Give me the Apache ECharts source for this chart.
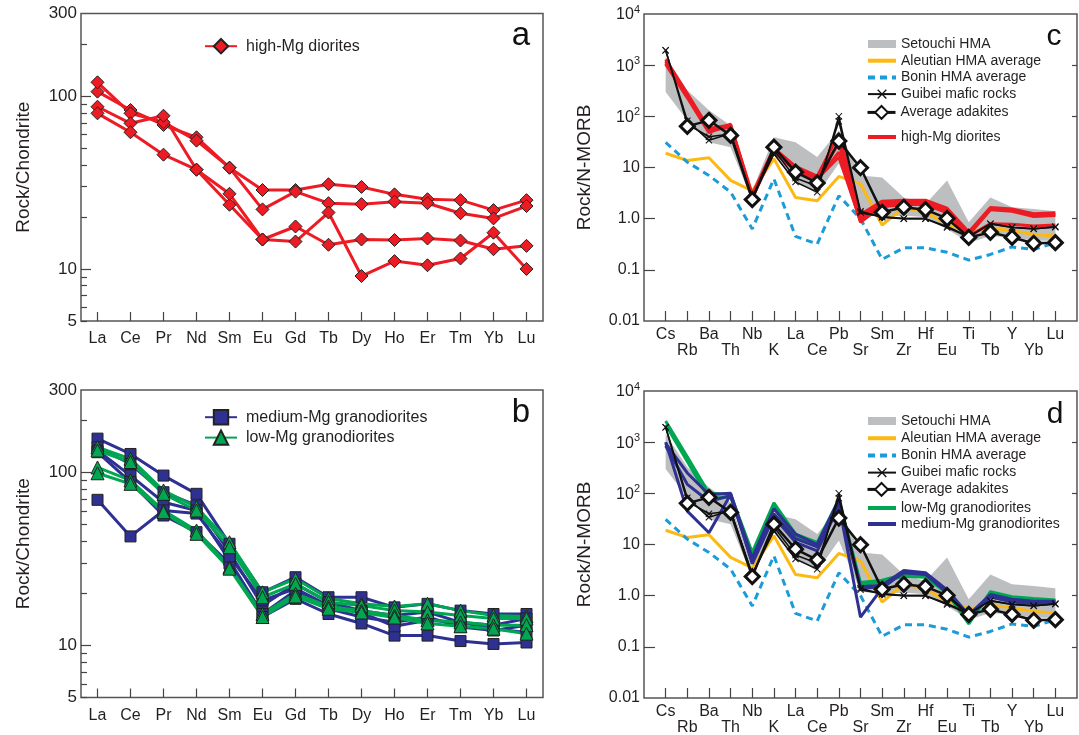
<!DOCTYPE html>
<html>
<head>
<meta charset="utf-8">
<title>Chondrite and N-MORB normalised patterns</title>
<script src="https://cdn.jsdelivr.net/npm/echarts@6.0.0/dist/echarts.min.js"></script>
<style>
  html, body { margin: 0; padding: 0; background: #fff; }
  #chart { width: 1079px; height: 735px; }
</style>
</head>
<body>
<div id="chart"></div>
<script>
// ---- data ----
const reeElements = ['La', 'Ce', 'Pr', 'Nd', 'Sm', 'Eu', 'Gd', 'Tb', 'Dy', 'Ho', 'Er', 'Tm', 'Yb', 'Lu'];
const spiderElements = ['Cs', 'Rb', 'Ba', 'Th', 'Nb', 'K', 'La', 'Ce', 'Pb', 'Sr', 'Sm', 'Zr', 'Hf', 'Eu', 'Ti', 'Tb', 'Y', 'Yb', 'Lu'];

// a: high-Mg diorites / chondrite
const highMg1 = [106, 83, 68, 57.7, 38.5, 28.6, 28.6, 30.9, 29.8, 27.0, 25.3, 25.0, 21.9, 25.0];
const highMg2 = [120, 79.4, 70.5, 55.2, 38.5, 22.1, 28.0, 24.0, 23.7, 24.5, 24.0, 21.0, 19.6, 23.1];
const highMg3 = [86.7, 69.5, 76.9, 37.5, 23.5, 14.8, 17.6, 13.8, 14.8, 14.7, 15.0, 14.6, 13.0, 13.6];
const highMg4 = [79.4, 61.7, 45.8, 37.5, 27.2, 14.8, 14.4, 21.2, 9.1, 11.1, 10.5, 11.5, 16.2, 10.0];

// b: granodiorites / chondrite
const medMg1 = [157, 128, 96, 75.3, 38.7, 20.3, 24.8, 19.0, 19.0, 16.6, 17.4, 15.9, 15.2, 15.2];
const medMg2 = [140, 112, 76.9, 64.5, 34.6, 17.0, 22.7, 17.8, 15.9, 14.9, 15.6, 13.6, 13.1, 14.3];
const medMg3 = [134, 96, 67.3, 60.3, 31.0, 15.2, 20.8, 16.3, 14.6, 13.6, 14.6, 12.8, 12.2, 13.1];
const medMg4 = [131, 88, 56.4, 45.2, 29.7, 14.6, 18.6, 15.2, 13.4, 11.4, 11.4, 10.6, 10.2, 10.4];
const medMg5 = [69.5, 42.7, 60.3, 57.9, 32.7, 18.2, 21.3, 17.0, 15.5, 12.9, 14.0, 13.6, 12.5, 11.9];
const lowMg1 = [140, 120, 78.7, 63.0, 39.5, 20.3, 24.3, 18.7, 17.4, 16.8, 17.4, 15.9, 14.9, 14.7];
const lowMg2 = [134, 115, 75.3, 60.3, 37.0, 19.0, 22.7, 17.8, 17.0, 15.9, 15.6, 14.9, 14.3, 14.3];
const lowMg3 = [107, 90, 60.3, 46.2, 28.4, 15.2, 19.9, 16.8, 15.9, 14.9, 14.0, 13.6, 13.1, 13.1];
const lowMg4 = [99, 86, 59.0, 44.2, 27.8, 14.6, 19.2, 16.3, 15.5, 14.5, 13.4, 12.9, 12.5, 11.7];

// c, d: N-MORB normalised references
const setouchiLow = [300, 83, 31, 25, 2.25, 18.5, 5.6, 3.0, 12, 1.2, 1.06, 1.15, 1.06, 0.63, 0.34, 0.46, 0.43, 0.37, 0.37];
const setouchiHigh = [1450, 322, 131, 66, 3.5, 39, 31, 16, 53, 7.0, 6.4, 2.6, 1.94, 5.6, 0.85, 2.6, 1.67, 1.55, 1.39];
const aleutian = [19, 13.7, 15.5, 5.6, 3.5, 14.8, 2.6, 2.25, 6.7, 4.8, 0.75, 1.67, 1.33, 0.79, 0.55, 0.65, 0.58, 0.49, 0.46];
const bonin = [31, 12.7, 7.0, 3.3, 0.63, 6.0, 0.45, 0.32, 2.8, 1.0, 0.16, 0.27, 0.27, 0.22, 0.155, 0.2, 0.28, 0.25, 0.34];
const guibei1 = [1950, 82, 34, 46, 2.6, 18.5, 5.2, 3.3, 100, 1.4, 1.06, 1.0, 1.0, 0.67, 0.44, 0.79, 0.67, 0.63, 0.7];
const guibei2 = [1950, 70, 40, 45, 2.5, 22, 6.2, 4.3, 80, 1.3, 1.1, 1.0, 1.0, 0.7, 0.45, 0.8, 0.68, 0.64, 0.68];
const adakite = [null, 63.7, 83.5, 42.4, 2.36, 25, 8.1, 5.0, 32.8, 9.9, 1.33, 1.67, 1.5, 1.01, 0.43, 0.54, 0.43, 0.33, 0.34];

// c: high-Mg diorites / N-MORB
const dioriteN1 = [1300, 280, 58, 68, 3.0, 24, 10.5, 6.8, 45, 1.2, 2.2, 2.3, 2.3, 1.6, 0.55, 1.65, 1.55, 1.25, 1.3];
const dioriteN2 = [1200, 250, 52, 62, 2.8, 22, 9.5, 6.2, 30, 1.0, 2.0, 2.2, 2.2, 1.45, 0.5, 1.55, 1.45, 1.15, 1.2];
const dioriteN3 = [1050, 230, 48, 70, 2.6, 20, 8.8, 5.8, 20, 0.85, 1.8, 2.0, 2.0, 1.35, 0.48, 1.5, 1.4, 1.1, 1.15];
const dioriteN4 = [1100, 260, 55, 65, 2.5, 21, 9.0, 6.0, 16, 0.9, 1.7, 1.9, 1.9, 1.3, 0.45, 0.8, 0.78, 0.72, 0.75];

// d: granodiorites / N-MORB
const lowMgN1 = [2600, 520, 100, 95, 7.0, 65, 16, 11, 75, 1.8, 2.0, 2.6, 2.5, 1.15, 0.28, 1.2, 0.95, 0.88, 0.82];
const lowMgN2 = [2200, 420, 80, 85, 6.0, 55, 14, 10, 65, 1.6, 1.9, 2.4, 2.3, 1.1, 0.3, 1.1, 0.9, 0.84, 0.8];
const medMgN1 = [950, 250, 95, 100, 5.5, 50, 16, 10, 75, 1.5, 1.6, 3.1, 2.8, 1.3, 0.42, 1.05, 0.85, 0.78, 0.78];
const medMgN2 = [850, 150, 70, 90, 4.8, 40, 13, 9, 60, 0.38, 1.4, 2.9, 2.7, 1.2, 0.4, 0.95, 0.78, 0.72, 0.76];
const medMgN3 = [1000, 45, 17, 95, 4.2, 35, 11, 7.5, 55, 1.4, 1.5, 2.8, 2.6, 1.15, 0.38, 0.95, 0.75, 0.7, 0.72];

// axis ticks
const reeMinorTicks = [5, 6, 7, 8, 9, 20, 30, 40, 50, 60, 70, 80, 90, 200];
const reeMajorTicks = [10, 100];
const reeTickLabels = [5, 10, 100, 300];
const morbTicks = [0.1, 1, 10, 100, 1000];
const morbTickLabels = [0.01, 0.1, 1, 10, 100, 1000, 10000];

// ---- styles ----
const FONT = '"Liberation Sans", Arial, Helvetica, sans-serif';
const RED = '#ED1C24', BLUE = '#2E3192', GREEN = '#00A651', YELLOW = '#FDB913', SKY = '#1B9BD7', GREY = '#BCBEC0';
const TICK = { color: '#444', width: 1.2 };
const lg = Math.log10;
const spiderIdx = spiderElements.map((e, i) => i);

let myChart = echarts.init(document.getElementById('chart'), null, { renderer: 'canvas' });

const grids = [
    { left: 81, top: 13.5, width: 462, height: 307.5 },
    { left: 81, top: 390, width: 462, height: 307.5 },
    { left: 644, top: 14, width: 433, height: 307 },
    { left: 644, top: 391, width: 433, height: 307 }
].map(g => Object.assign({ show: true, borderColor: '#555', borderWidth: 1.5, backgroundColor: 'transparent', containLabel: false, outerBoundsMode: 'none' }, g));

const xAxes = [];
[0, 1].forEach(g => xAxes.push({
    type: 'category', gridIndex: g, data: reeElements, boundaryGap: true,
    axisLine: { show: false, onZero: false },
    axisTick: { show: true, inside: true, alignWithLabel: true, interval: 0, length: 9, lineStyle: TICK },
    axisLabel: { interval: 0, fontSize: 16, margin: 10, color: '#231F20', fontFamily: FONT },
    splitLine: { show: false }
}));
[2, 3].forEach(g => xAxes.push({
    type: 'value', gridIndex: g, min: -1, max: 19,
    axisLine: { show: false, onZero: false },
    splitLine: { show: false },
    axisTick: { show: true, inside: true, length: 10, customValues: spiderIdx, lineStyle: TICK },
    axisLabel: {
        customValues: spiderIdx,
        formatter: v => { const i = Math.round(v); return (i % 2 ? '\n' : '') + spiderElements[i]; },
        fontSize: 16, lineHeight: 16, margin: 6, color: '#231F20', fontFamily: FONT
    }
}));

// every panel: one hidden log axis for the data + linear log10 axes for ticks/labels
const yAxes = [];
function addLogAxes(g, min, max, tickSets) {
    const dataAxis = yAxes.length;
    yAxes.push({ type: 'log', logBase: 10, gridIndex: g, min: min, max: max, show: false });
    tickSets.forEach(t => {
        yAxes.push({
            type: 'value', gridIndex: g, position: t.position || 'left',
            min: lg(min), max: lg(max),
            name: t.name || '', nameLocation: 'middle', nameGap: t.nameGap || 0,
            nameTextStyle: { fontSize: 19, color: '#231F20', fontFamily: FONT },
            axisLine: { show: false, onZero: false }, splitLine: { show: false },
            axisTick: { show: true, inside: true, length: t.length, customValues: t.ticks.map(lg), lineStyle: TICK },
            axisLabel: t.labels ? {
                show: true, customValues: t.labels.map(lg), formatter: t.formatter,
                fontSize: t.fontSize || 16, margin: 4, color: '#231F20', fontFamily: FONT, rich: t.rich
            } : { show: false }
        });
    });
    return dataAxis;
}

const reeFormatter = v => String(Math.round(Math.pow(10, v)));
const morbFormatter = v => {
    const e = Math.round(v);
    if (e >= 2) return '{b|10}{s|' + e + '}';
    return { 1: '10', 0: '1.0', '-1': '0.1', '-2': '0.01' }[e];
};
const morbRich = {
    b: { fontSize: 16, lineHeight: 18, verticalAlign: 'bottom', color: '#231F20', fontFamily: FONT },
    s: { fontSize: 11, lineHeight: 11, verticalAlign: 'bottom', padding: [0, 0, 8, 0], color: '#231F20', fontFamily: FONT }
};

const yA = addLogAxes(0, 5, 300, [
    { ticks: reeMinorTicks, length: 6 },
    { ticks: reeMajorTicks, length: 10, labels: reeTickLabels, formatter: reeFormatter, fontSize: 17, name: 'Rock/Chondrite', nameGap: 48 }
]);
const yB = addLogAxes(1, 5, 300, [
    { ticks: reeMinorTicks, length: 6 },
    { ticks: reeMajorTicks, length: 10, labels: reeTickLabels, formatter: reeFormatter, fontSize: 17, name: 'Rock/Chondrite', nameGap: 48 }
]);
const yC = addLogAxes(2, 0.01, 10000, [
    { ticks: morbTicks, length: 11, labels: morbTickLabels, formatter: morbFormatter, rich: morbRich, name: 'Rock/N-MORB', nameGap: 50 },
    { ticks: morbTicks, length: 5, position: 'right' }
]);
const yD = addLogAxes(3, 0.01, 10000, [
    { ticks: morbTicks, length: 11, labels: morbTickLabels, formatter: morbFormatter, rich: morbRich, name: 'Rock/N-MORB', nameGap: 50 },
    { ticks: morbTicks, length: 5, position: 'right' }
]);

// ---- series helpers ----
const base = { type: 'line', animation: false, silent: true, emphasis: { disabled: true }, showAllSymbol: true };

function reeLine(name, vals, xi, yi, color, symbol, size) {
    return Object.assign({}, base, {
        name: name, xAxisIndex: xi, yAxisIndex: yi, data: vals,
        symbol: symbol, symbolSize: size,
        lineStyle: { color: color, width: 3 },
        itemStyle: { color: color, borderColor: '#222', borderWidth: 1 }
    });
}

function spiderLine(name, vals, xi, yi, style) {
    const pts = [];
    vals.forEach((v, i) => { if (v != null) pts.push([i, v]); });
    return Object.assign({}, base, {
        name: name, xAxisIndex: xi, yAxisIndex: yi, data: pts
    }, style);
}

// plain lines: no markers on the chart, invisible marker in the legend icon
function plain(color, width, type) {
    return {
        symbol: 'circle', showSymbol: false,
        lineStyle: { color: color, width: width, type: type || 'solid' },
        itemStyle: { color: 'rgba(0,0,0,0)', borderWidth: 0 }
    };
}

const CROSS = 'path://M0,1L1,0L5,4L9,0L10,1L6,5L10,9L9,10L5,6L1,10L0,9L4,5Z';

function referenceSeries(xi, yi) {
    const n = spiderElements.length;
    return [
        {
            type: 'custom', name: 'Setouchi HMA', xAxisIndex: xi, yAxisIndex: yi, silent: true, animation: false,
            itemStyle: { color: GREY },
            data: setouchiLow.map((v, i) => [i, v, setouchiHigh[i]]),
            encode: { x: 0, y: [1, 2] },
            renderItem: function (params, api) {
                if (params.dataIndex !== 0) return null;
                const pts = [];
                for (let i = 0; i < n; i++) pts.push(api.coord([i, setouchiLow[i]]));
                for (let i = n - 1; i >= 0; i--) pts.push(api.coord([i, setouchiHigh[i]]));
                return { type: 'polygon', shape: { points: pts }, style: { fill: GREY } };
            }
        },
        spiderLine('Aleutian HMA average', aleutian, xi, yi, plain(YELLOW, 3)),
        spiderLine('Bonin HMA average', bonin, xi, yi, plain(SKY, 3, [7, 5]))
    ];
}

function topSeries(xi, yi) {
    const gStyle = {
        symbol: CROSS, symbolSize: 7,
        lineStyle: { color: '#111', width: 1.6 }, itemStyle: { color: '#111' }
    };
    return [
        spiderLine('Guibei mafic rocks', guibei1, xi, yi, gStyle),
        spiderLine('Guibei mafic rocks', guibei2, xi, yi, gStyle),
        spiderLine('Average adakites', adakite, xi, yi, {
            symbol: 'diamond', symbolSize: 14,
            lineStyle: { color: '#111', width: 2.5 },
            itemStyle: { color: '#fff', borderColor: '#111', borderWidth: 3 }
        })
    ];
}

const series = [
    reeLine('high-Mg diorites', highMg1, 0, yA, RED, 'diamond', 13),
    reeLine('high-Mg diorites', highMg2, 0, yA, RED, 'diamond', 13),
    reeLine('high-Mg diorites', highMg3, 0, yA, RED, 'diamond', 13),
    reeLine('high-Mg diorites', highMg4, 0, yA, RED, 'diamond', 13),

    reeLine('medium-Mg granodiorites', medMg1, 1, yB, BLUE, 'rect', 11),
    reeLine('medium-Mg granodiorites', medMg2, 1, yB, BLUE, 'rect', 11),
    reeLine('medium-Mg granodiorites', medMg3, 1, yB, BLUE, 'rect', 11),
    reeLine('medium-Mg granodiorites', medMg4, 1, yB, BLUE, 'rect', 11),
    reeLine('medium-Mg granodiorites', medMg5, 1, yB, BLUE, 'rect', 11),
    reeLine('low-Mg granodiorites', lowMg1, 1, yB, GREEN, 'triangle', 13),
    reeLine('low-Mg granodiorites', lowMg2, 1, yB, GREEN, 'triangle', 13),
    reeLine('low-Mg granodiorites', lowMg3, 1, yB, GREEN, 'triangle', 13),
    reeLine('low-Mg granodiorites', lowMg4, 1, yB, GREEN, 'triangle', 13)
].concat(
    referenceSeries(2, yC),
    [dioriteN1, dioriteN2, dioriteN3, dioriteN4].map(v => spiderLine('high-Mg diorites ', v, 2, yC, plain(RED, 3))),
    topSeries(2, yC),
    referenceSeries(3, yD),
    [lowMgN1, lowMgN2].map(v => spiderLine('low-Mg granodiorites ', v, 3, yD, plain(GREEN, 3))),
    [medMgN1, medMgN2, medMgN3].map(v => spiderLine('medium-Mg granodiorites ', v, 3, yD, plain(BLUE, 3))),
    topSeries(3, yD)
);

const legendText = { fontSize: 16, color: '#231F20', fontFamily: FONT, padding: [0, 0, 0, 4] };
const smallText = { fontSize: 14, color: '#231F20', fontFamily: FONT };
const thick = name => ({ name: name, lineStyle: { width: 4 } });
const setouchiIcon = { name: 'Setouchi HMA', icon: 'path://M0,0H28V8H0Z' };
const adakiteIcon = { name: 'Average adakites', lineStyle: { width: 3 } };

const legends = [
    { left: 204, top: 38, itemWidth: 32, itemHeight: 18, data: ['high-Mg diorites'], textStyle: legendText },
    { left: 204, top: 409, orient: 'vertical', itemWidth: 32, itemHeight: 18, itemGap: 4,
      data: ['medium-Mg granodiorites', 'low-Mg granodiorites'], textStyle: legendText },
    // c
    { left: 866, top: 37, orient: 'vertical', itemWidth: 28, itemHeight: 12, itemGap: 2.7,
      data: [setouchiIcon, thick('Aleutian HMA average'), thick('Bonin HMA average'), 'Guibei mafic rocks'], textStyle: smallText },
    { left: 866, top: 105, itemWidth: 28, itemHeight: 16, data: [adakiteIcon], textStyle: smallText },
    { left: 866, top: 130, itemWidth: 28, itemHeight: 12, data: [thick('high-Mg diorites ')], textStyle: smallText },
    // d
    { left: 866, top: 414, orient: 'vertical', itemWidth: 28, itemHeight: 12, itemGap: 3.2,
      data: [setouchiIcon, thick('Aleutian HMA average'), thick('Bonin HMA average'), 'Guibei mafic rocks'], textStyle: smallText },
    { left: 866, top: 482, itemWidth: 28, itemHeight: 16, data: [adakiteIcon], textStyle: smallText },
    { left: 866, top: 501, orient: 'vertical', itemWidth: 28, itemHeight: 12, itemGap: 2,
      data: [thick('low-Mg granodiorites '), thick('medium-Mg granodiorites ')], textStyle: smallText }
].map(l => Object.assign({ selectedMode: false, padding: 0 }, l));

// panel letters
const letters = [['a', 521, 36, 33], ['b', 521, 413, 33], ['c', 1054, 37, 30], ['d', 1055, 415, 30]].map(p => ({
    type: 'text', x: p[1], y: p[2], silent: true,
    style: { text: p[0], fontSize: p[3], fontFamily: FONT, fill: '#111', align: 'center', verticalAlign: 'middle' }
}));

let option = {
    animation: false,
    backgroundColor: '#fff',
    textStyle: { fontFamily: FONT },
    grid: grids,
    xAxis: xAxes,
    yAxis: yAxes,
    legend: legends,
    graphic: letters,
    series: series
};
option && myChart.setOption(option);
</script>
</body>
</html>
